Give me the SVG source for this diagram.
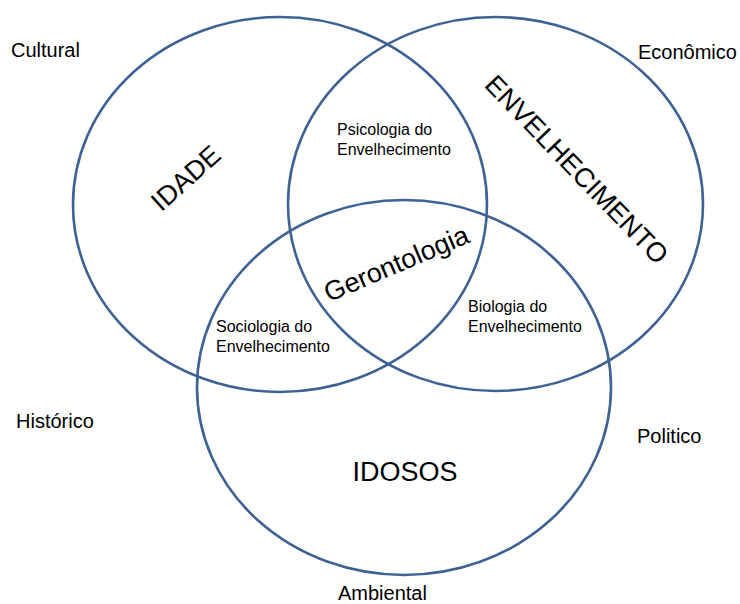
<svg xmlns="http://www.w3.org/2000/svg" width="740" height="604" viewBox="0 0 740 604">
<style>
.c{fill:none;stroke:#3F6294;stroke-width:2.6}
text{font-family:"Liberation Sans",Arial,sans-serif;fill:#000}
.ctx{font-size:20px}
.big{font-size:27px}
.sm{font-size:16px}
</style>
<rect width="740" height="604" fill="#fff"/>
<g id="connectors"></g>
<g id="idade">
<ellipse class="c" cx="280" cy="204.5" rx="207" ry="187.5"/>
<text class="big" text-anchor="middle" transform="translate(192,185) rotate(-42)">IDADE</text>
</g>
<g id="envelhecimento">
<ellipse class="c" cx="495.5" cy="204" rx="207.5" ry="187"/>
<text class="big" text-anchor="middle" transform="translate(570,176) rotate(46)">ENVELHECIMENTO</text>
</g>
<g id="idosos">
<ellipse class="c" cx="404" cy="387.5" rx="207" ry="187.5"/>
<text class="big" x="405" y="481" text-anchor="middle">IDOSOS</text>
</g>
<g id="gerontologia">
<text class="big" text-anchor="middle" transform="translate(400,272) rotate(-23)">Gerontologia</text>
</g>
<g id="psicologia">
<text class="sm" x="337" y="135">Psicologia do</text>
<text class="sm" x="337" y="155">Envelhecimento</text>
</g>
<g id="sociologia">
<text class="sm" x="216" y="332">Sociologia do</text>
<text class="sm" x="216" y="352">Envelhecimento</text>
</g>
<g id="biologia">
<text class="sm" x="468" y="312">Biologia do</text>
<text class="sm" x="468" y="332">Envelhecimento</text>
</g>
<g id="contextos">
<text class="ctx" x="11" y="57">Cultural</text>
<text class="ctx" x="638" y="59">Econômico</text>
<text class="ctx" x="16" y="428">Histórico</text>
<text class="ctx" x="637" y="443">Politico</text>
<text class="ctx" x="338" y="600">Ambiental</text>
</g>
</svg>
